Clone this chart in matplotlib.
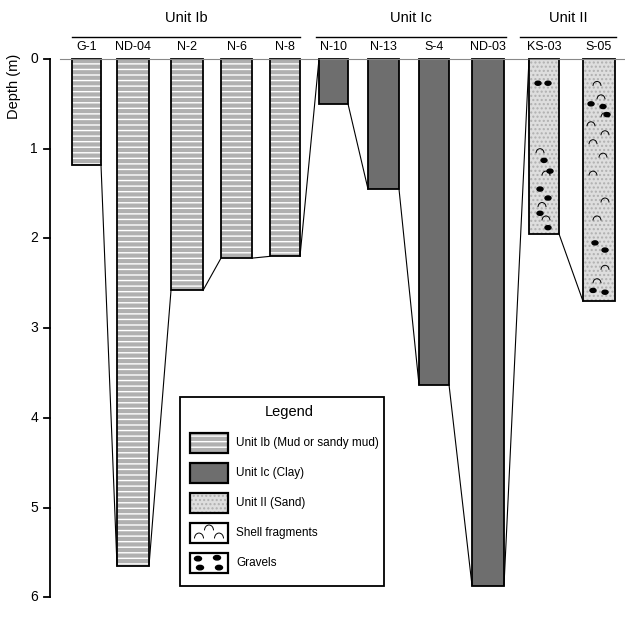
import matplotlib
matplotlib.use("Agg")
import matplotlib.pyplot as plt
from matplotlib.patches import Rectangle, Arc, Ellipse

plt.rcParams["font.family"] = "Liberation Sans"
plt.rcParams["hatch.linewidth"] = 1.0

cores = ["G-1", "ND-04", "N-2", "N-6", "N-8", "N-10", "N-13", "S-4", "ND-03", "KS-03", "S-05"]
units = ["Ib", "Ib", "Ib", "Ib", "Ib", "Ic", "Ic", "Ic", "Ic", "II", "II"]
depths = [1.18, 5.65, 2.58, 2.22, 2.20, 0.50, 1.45, 3.63, 5.87, 1.95, 2.70]
x_left = [72, 117, 171, 221, 270, 319, 368, 419, 472, 529, 583]
x_right = [101, 149, 203, 252, 300, 348, 399, 449, 504, 559, 615]
group_names = ["Unit Ib", "Unit Ic", "Unit II"]
group_spans = [(72, 300), (316, 506), (520, 616)]

# clast markers (core index, depth)
shells = [(9, 1.05), (9, 1.3), (9, 1.65), (9, 1.8),
          (10, 0.3), (10, 0.45), (10, 0.65), (10, 0.75), (10, 0.85), (10, 0.95),
          (10, 1.1), (10, 1.3), (10, 1.6), (10, 1.8), (10, 2.35), (10, 2.5)]
gravels = [(9, 0.27), (9, 0.27), (9, 1.13), (9, 1.25), (9, 1.45), (9, 1.55), (9, 1.72), (9, 1.88),
           (10, 0.5), (10, 0.62), (10, 0.53), (10, 2.05), (10, 2.13), (10, 2.58), (10, 2.6)]
gravel_dx = [-6, 4, 0, 6, -4, 4, -4, 4, -8, 8, 4, -4, 6, -6, 6]
shell_dx = [-4, 2, -2, 2, -2, 2, 6, -8, 6, -6, 4, -6, 6, -2, 6, -2]

PX = 89.7
fig = plt.figure(figsize=(6.25, 6.19), dpi=100)
ax = fig.add_axes([0, 0, 1, 1])
ax.set_xlim(0, 625)
ax.set_ylim((619 - 59) / PX, -59 / PX)
ax.axis("off")

ib_col, ic_col, ii_col = "#b0b0b0", "#6e6e6e", "#dedede"


def draw_box(x0, y0, w, h, unit, lw=1.3):
    if unit == "Ib":
        ax.add_patch(Rectangle((x0, y0), w, h, facecolor=ib_col, edgecolor="white",
                               hatch="---", lw=0))
    elif unit == "Ic":
        ax.add_patch(Rectangle((x0, y0), w, h, facecolor=ic_col, lw=0))
    elif unit == "II":
        ax.add_patch(Rectangle((x0, y0), w, h, facecolor=ii_col, edgecolor="#b0b0b0",
                               hatch="....", lw=0))
    else:
        ax.add_patch(Rectangle((x0, y0), w, h, facecolor="white", lw=0))
    ax.add_patch(Rectangle((x0, y0), w, h, facecolor="none", edgecolor="black", lw=lw))


# top reference line
ax.plot([60, 625], [0, 0], color="#888888", lw=0.8)

for i, name in enumerate(cores):
    draw_box(x_left[i], 0, x_right[i] - x_left[i], depths[i], units[i])
    ax.text((x_left[i] + x_right[i]) / 2, -0.13, name, ha="center", va="center", fontsize=9)

# correlation lines
for i in range(len(cores) - 1):
    y_next = depths[i + 1] if units[i] == units[i + 1] else 0
    ax.plot([x_right[i], x_left[i + 1]], [depths[i], y_next], color="black", lw=0.8)

for (k, d), dx in zip(shells, shell_dx):
    cx = (x_left[k] + x_right[k]) / 2 + dx
    ax.add_patch(Arc((cx, d), 8, 0.1, theta1=180, theta2=360, lw=0.7, color="black"))
for (k, d), dx in zip(gravels, gravel_dx):
    cx = (x_left[k] + x_right[k]) / 2 + dx
    ax.add_patch(Ellipse((cx, d), 6, 0.045, color="black"))

for name, (a, b) in zip(group_names, group_spans):
    ax.plot([a, b], [-0.245, -0.245], color="black", lw=1)
    ax.text((a + b) / 2, -0.46, name, ha="center", va="center", fontsize=10.5)

# depth axis
ax.plot([50, 50], [0, 6], color="black", lw=1.3)
for t in range(7):
    ax.plot([44, 50], [t, t], color="black", lw=1.3)
    ax.text(38, t, str(t), ha="right", va="center", fontsize=10)
ax.text(14, 0.3, "Depth (m)", rotation=90, ha="center", va="center", fontsize=10.5)

# legend
ax.add_patch(Rectangle((180, 3.77), 204, 2.1, facecolor="white", edgecolor="black", lw=1.3))
ax.text(289, 3.93, "Legend", ha="center", va="center", fontsize=10.5)
leg_items = [("Ib", "Unit Ib (Mud or sandy mud)"), ("Ic", "Unit Ic (Clay)"),
             ("II", "Unit II (Sand)"), ("shell", "Shell fragments"), ("gravel", "Gravels")]
for j, (u, lab) in enumerate(leg_items):
    yc = 4.28 + j * 0.335
    draw_box(190, yc - 0.115, 38, 0.23, u, lw=1.6)
    if u == "shell":
        for dx, dy in [(-10, 0.06), (0, -0.03), (10, 0.06)]:
            ax.add_patch(Arc((209 + dx, yc + dy), 9, 0.12, theta1=180, theta2=360, lw=0.7))
    if u == "gravel":
        for dx, dy in [(-11, -0.05), (-9, 0.05), (8, -0.06), (10, 0.05)]:
            ax.add_patch(Ellipse((209 + dx, yc + dy), 7, 0.05, color="black"))
    ax.text(236, yc, lab, ha="left", va="center", fontsize=8.5)

fig.savefig("out.png", dpi=100)
